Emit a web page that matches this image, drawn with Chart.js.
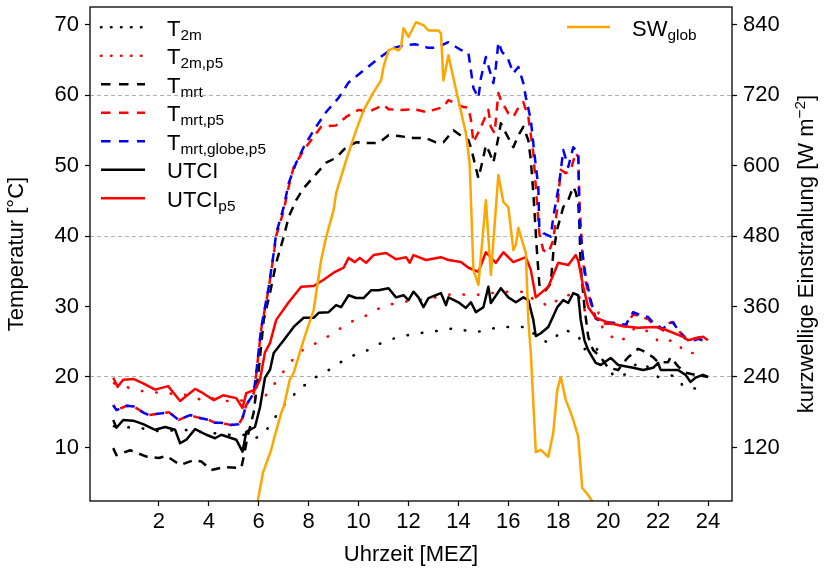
<!DOCTYPE html>
<html>
<head>
<meta charset="utf-8">
<script src="https://cdn.jsdelivr.net/npm/chart.js@4"></script>
<style>
  html, body { margin: 0; padding: 0; background: #fff; }
</style>
</head>
<body>
<canvas id="canva" width="827" height="572"></canvas>
<script>
// Achsenticks
const hourTicks = [2, 4, 6, 8, 10, 12, 14, 16, 18, 20, 22, 24];
const tempTicks = [10, 20, 30, 40, 50, 60, 70];
const swTicks = [120, 240, 360, 480, 600, 720, 840];
const swGridValues = [240, 480, 720];

// Legende
const legendMain = ["T", "T", "T", "T", "T", "UTCI", "UTCI"];
const legendSub = ["2m", "2m,p5", "mrt", "mrt,p5", "mrt,globe,p5", "", "p5"];
const swLegendMain = "SW";
const swLegendSub = "glob";

// Messreihen als [Uhrzeit in h, Wert]
const t2m = [[0.2,13.0],[0.6,12.8],[1.0,12.9],[1.5,12.6],[2.0,12.3],[2.5,12.4],[3.0,12.5],[3.5,12.3],[4.0,12.0],[4.5,12.0],[5.0,11.7],[5.5,11.8],[5.8,11.2],[6.2,11.9],[6.64,14.2],[7.1,16.4],[7.4,17.4],[7.64,18.6],[8.0,19.0],[8.3,20.0],[8.96,21.3],[9.57,22.8],[10.2,23.5],[10.9,24.8],[11.6,25.7],[12.4,26.2],[13.1,26.5],[13.8,26.9],[14.6,26.4],[15.0,26.5],[15.6,27.1],[16.3,27.1],[16.8,27.1],[17.0,26.2],[17.2,25.7],[17.6,24.8],[17.9,25.7],[18.2,26.8],[18.4,26.5],[18.8,26.0],[19.0,23.8],[19.2,24.3],[19.5,24.3],[19.7,22.8],[20.1,20.7],[20.3,19.9],[20.7,20.4],[21.2,22.1],[21.5,21.7],[22.0,20.0],[22.4,20.3],[22.8,20.0],[23.0,18.6],[23.4,18.4],[23.7,18.3]];

const t2mP5 = [[0.2,19.1],[0.7,18.6],[1.0,18.2],[1.5,17.9],[2.3,17.7],[3.3,17.4],[3.7,16.7],[4.1,17.0],[4.7,16.6],[5.1,16.5],[5.5,16.8],[5.8,17.2],[6.1,16.6],[6.4,17.9],[7.1,21.3],[7.6,23.5],[8.3,24.8],[8.9,26.0],[9.6,27.7],[10.2,28.5],[10.9,29.9],[11.6,30.6],[12.4,30.9],[13.1,31.3],[13.8,31.8],[14.6,31.6],[15.3,31.9],[16.0,32.1],[16.8,32.1],[17.0,30.9],[17.4,30.5],[17.6,29.9],[18.2,31.6],[18.4,31.6],[18.8,31.9],[19.0,29.5],[19.6,29.2],[19.8,26.6],[20.1,25.9],[20.3,25.0],[20.7,25.5],[21.1,27.1],[21.8,26.2],[22.0,25.0],[22.4,25.2],[22.8,25.0],[23.0,23.5],[23.4,23.4],[23.7,23.3]];

const tmrt = [[0.17,9.9],[0.3,8.9],[0.85,9.6],[1.5,8.7],[2.0,8.5],[2.3,8.8],[2.85,7.5],[3.4,8.2],[3.7,8.0],[4.1,6.8],[4.6,7.2],[5.1,7.1],[5.3,7.1],[5.4,8.7],[5.55,11.5],[5.8,15.0],[6.0,21.0],[6.2,28.1],[6.45,31.9],[6.7,36.2],[7.0,39.9],[7.2,42.7],[7.5,45.1],[7.8,46.8],[8.2,48.4],[8.7,50.4],[9.1,51.1],[9.5,52.6],[9.9,53.3],[10.3,53.2],[10.8,53.2],[11.2,54.3],[11.6,54.2],[12.2,53.9],[12.7,53.9],[13.1,53.3],[13.4,53.3],[13.8,55.0],[14.2,54.0],[14.4,53.6],[14.5,52.6],[14.65,50.4],[14.8,48.2],[14.95,50.4],[15.1,52.9],[15.25,51.8],[15.4,50.4],[15.6,54.0],[15.7,56.0],[15.9,54.6],[16.2,52.6],[16.4,54.3],[16.6,55.5],[16.8,53.6],[16.9,50.8],[17.0,46.1],[17.15,37.6],[17.25,32.8],[17.5,32.3],[17.7,33.3],[17.8,37.6],[17.96,41.0],[18.2,44.1],[18.4,45.1],[18.6,47.0],[18.7,46.2],[18.8,44.7],[18.85,41.3],[18.9,35.6],[19.05,29.9],[19.2,25.7],[19.4,23.8],[19.7,22.8],[20.0,21.3],[20.4,21.0],[20.7,22.4],[20.8,22.8],[21.2,24.0],[21.4,23.7],[21.8,22.8],[22.0,22.1],[22.4,22.1],[22.5,22.8],[22.8,21.5],[23.1,20.6],[23.5,20.3],[24.0,20.0]];

const tmrtP5 = [[0.17,16.0],[0.3,15.3],[0.7,15.9],[1.0,15.8],[1.4,14.9],[1.6,14.6],[2.2,14.9],[2.4,15.0],[2.8,13.9],[3.25,14.6],[3.5,14.3],[4.0,13.9],[4.25,13.5],[4.5,13.5],[4.85,13.2],[5.2,13.3],[5.35,14.2],[5.5,16.0],[5.8,17.7],[5.9,20.4],[6.0,23.6],[6.1,26.8],[6.4,32.6],[6.6,37.4],[6.7,40.0],[7.0,43.6],[7.2,47.0],[7.4,49.8],[7.8,52.2],[8.1,53.6],[8.5,55.5],[9.1,55.7],[9.5,56.9],[10.0,57.9],[10.4,57.6],[11.0,58.6],[11.2,58.0],[11.7,57.9],[12.2,58.0],[12.7,57.6],[13.4,58.3],[13.6,59.3],[14.2,58.3],[14.4,58.2],[14.5,56.5],[14.6,53.3],[14.84,55.0],[15.2,57.9],[15.3,55.5],[15.45,54.6],[15.6,60.3],[15.7,59.3],[16.0,57.4],[16.2,56.9],[16.4,58.2],[16.6,59.0],[16.8,56.9],[17.0,51.8],[17.1,47.0],[17.24,40.4],[17.4,38.0],[17.6,37.6],[17.8,39.4],[17.96,44.0],[18.1,49.4],[18.3,48.9],[18.5,49.4],[18.7,51.8],[18.8,51.2],[18.85,44.7],[18.97,37.0],[19.1,33.5],[19.3,30.5],[19.5,28.3],[19.8,27.6],[20.2,27.5],[20.7,27.2],[21.0,28.9],[21.2,28.7],[21.6,28.2],[21.8,27.5],[22.2,26.6],[22.4,27.6],[22.6,27.8],[22.8,26.6],[23.1,25.6],[23.4,25.4],[23.6,25.6],[24.0,25.5]];

const tmrtGlobeP5 = [[0.17,16.0],[0.3,15.3],[0.7,15.9],[1.0,15.8],[1.4,14.9],[1.6,14.6],[2.2,14.9],[2.4,15.0],[2.8,13.9],[3.25,14.6],[3.5,14.3],[4.0,13.9],[4.25,13.5],[4.5,13.5],[4.85,13.2],[5.2,13.3],[5.35,14.2],[5.5,16.0],[5.8,17.7],[5.9,20.6],[6.0,23.8],[6.1,27.0],[6.4,32.8],[6.6,37.6],[6.7,40.4],[7.0,44.1],[7.2,47.5],[7.5,50.4],[7.8,52.6],[8.2,55.0],[8.7,57.6],[9.2,59.6],[9.6,61.8],[10.2,63.5],[10.8,65.2],[11.4,66.7],[11.9,67.1],[12.3,67.2],[12.8,66.7],[13.1,66.7],[13.6,67.5],[14.1,66.4],[14.4,66.0],[14.5,63.5],[14.6,61.0],[14.8,59.6],[14.9,62.4],[15.1,65.4],[15.25,63.5],[15.4,61.7],[15.5,64.0],[15.6,67.5],[15.75,66.1],[15.96,65.4],[16.2,63.1],[16.4,64.0],[16.6,61.7],[16.7,59.7],[16.9,56.5],[17.04,51.8],[17.2,47.0],[17.24,41.3],[17.4,40.4],[17.7,39.9],[17.8,42.7],[18.04,47.5],[18.2,52.2],[18.4,49.8],[18.6,52.6],[18.8,51.8],[18.85,42.3],[18.97,37.6],[19.1,34.2],[19.3,30.9],[19.5,28.3],[19.8,27.8],[20.2,27.7],[20.7,27.4],[21.0,29.2],[21.2,28.9],[21.6,28.5],[21.8,27.7],[22.2,26.8],[22.4,27.7],[22.6,27.7],[22.8,26.7],[23.1,25.4],[23.4,25.1],[23.6,25.4],[24.0,25.0]];

const utci = [[0.17,13.9],[0.3,12.8],[0.57,13.9],[0.97,13.8],[1.37,13.3],[1.85,12.5],[2.25,12.9],[2.65,12.5],[2.85,10.6],[3.1,11.1],[3.45,12.6],[3.9,11.8],[4.25,11.3],[4.5,11.8],[5.1,11.1],[5.35,9.4],[5.5,12.2],[5.85,12.9],[6.05,15.7],[6.25,19.9],[6.45,21.0],[6.6,23.4],[7.0,25.2],[7.4,27.1],[7.8,28.4],[8.2,28.4],[8.4,29.1],[8.8,29.2],[9.1,30.2],[9.3,29.9],[9.6,31.6],[9.9,31.2],[10.2,31.2],[10.5,32.3],[10.8,32.3],[11.2,32.6],[11.5,31.3],[11.8,31.6],[12.0,30.9],[12.2,32.1],[12.4,31.3],[12.6,29.9],[12.8,31.2],[13.3,31.9],[13.5,30.2],[13.6,31.3],[14.0,30.6],[14.3,29.8],[14.5,30.6],[14.7,29.2],[15.0,29.9],[15.2,32.8],[15.3,30.5],[15.7,32.6],[16.0,31.3],[16.3,30.6],[16.6,31.3],[16.8,30.9],[17.0,28.1],[17.1,25.8],[17.3,26.2],[17.6,27.1],[17.96,29.9],[18.2,30.9],[18.4,30.5],[18.6,31.9],[18.8,31.6],[18.9,28.1],[19.05,25.2],[19.2,23.8],[19.5,22.0],[19.7,21.7],[20.1,22.7],[20.4,21.7],[21.0,21.3],[21.4,21.0],[21.8,21.3],[22.0,22.0],[22.1,21.0],[22.8,21.0],[23.1,20.3],[23.3,19.3],[23.5,19.9],[23.8,20.3],[24.0,20.0]];

const utciP5 = [[0.17,19.9],[0.35,18.6],[0.57,19.6],[1.0,19.7],[1.37,19.1],[1.85,18.2],[2.37,18.7],[2.6,17.7],[2.85,16.6],[3.45,18.3],[3.77,17.7],[4.2,16.7],[4.57,17.4],[5.1,17.0],[5.35,15.6],[5.5,17.7],[5.85,18.2],[6.05,19.6],[6.25,23.5],[6.45,24.8],[6.7,28.1],[7.2,30.6],[7.7,32.8],[8.2,32.9],[8.6,33.8],[9.0,34.8],[9.4,35.5],[9.6,36.9],[9.85,36.3],[10.05,36.9],[10.3,36.2],[10.6,37.3],[11.1,37.6],[11.5,36.7],[11.9,37.0],[12.05,36.2],[12.2,37.3],[12.7,36.6],[13.3,37.0],[13.6,36.6],[14.1,36.3],[14.4,35.5],[14.8,34.9],[15.1,37.7],[15.5,36.2],[15.8,37.7],[16.2,36.3],[16.7,37.0],[16.9,35.2],[17.1,31.3],[17.6,32.8],[18.0,36.2],[18.4,35.9],[18.7,37.3],[18.8,36.5],[19.0,32.8],[19.2,29.9],[19.5,28.4],[20.0,27.7],[20.6,27.2],[21.2,27.0],[21.9,27.1],[22.3,26.7],[23.0,25.7],[23.2,25.2],[23.8,25.7],[24.0,25.2]];

// Globalstrahlung in W m-2 (rechte Achse)
const swGlob = [[5.9,20],[5.97,31],[6.17,77],[6.5,116],[6.6,133],[6.9,179],[7.0,189],[7.24,235],[7.4,247],[7.8,303],[8.2,354],[8.5,439],[8.7,478],[9.0,524],[9.1,553],[9.5,609],[9.9,660],[10.2,694],[10.6,725],[10.9,745],[11.0,768],[11.2,796],[11.4,800],[11.6,796],[11.7,802],[11.8,834],[12.0,819],[12.3,844],[12.6,839],[12.8,830],[13.2,830],[13.3,825],[13.4,745],[13.6,788],[13.7,768],[14.0,711],[14.3,655],[14.45,604],[14.6,422],[14.8,397],[15.1,541],[15.3,414],[15.6,584],[15.8,538],[16.0,529],[16.2,456],[16.3,465],[16.4,494],[16.7,451],[16.8,337],[16.9,281],[17.1,112],[17.3,116],[17.6,104],[17.8,145],[17.96,218],[18.1,240],[18.3,201],[18.5,179],[18.6,167],[18.8,138],[18.96,51],[19.2,39],[19.4,25]];

const FONT = '"Liberation Sans", Arial, sans-serif';
const FS = 22;
const FS_SUB = 15.4;

const estilos = {
  dot: { width: 2.6, dash: [0.5, 14], legendDash: [0.5, 9.5], cap: "round" },
  dash: { width: 2.5, dash: [9, 7], legendDash: [9.5, 8.5], cap: "butt" },
  solid: { width: 2.5, dash: [], legendDash: [], cap: "butt" }
};

// offset: Phasenversatz der Strichelung, damit sich ueberlagernde Linien sichtbar bleiben
const reihen = [
  { data: t2m, color: "#000000", estilo: "dot", axis: "y", offset: 0 },
  { data: t2mP5, color: "#ff0000", estilo: "dot", axis: "y", offset: 0 },
  { data: tmrt, color: "#000000", estilo: "dash", axis: "y", offset: 0 },
  { data: tmrtP5, color: "#ff0000", estilo: "dash", axis: "y", offset: 6 },
  { data: tmrtGlobeP5, color: "#0000ff", estilo: "dash", axis: "y", offset: 0 },
  { data: utci, color: "#000000", estilo: "solid", axis: "y", offset: 0 },
  { data: utciP5, color: "#ff0000", estilo: "solid", axis: "y", offset: 0 },
  { data: swGlob, color: "#ffa500", estilo: "solid", axis: "y2", offset: 0 }
];

const datasets = reihen.map((r, i) => {
  const e = estilos[r.estilo];
  return {
    data: r.data.map(([x, y]) => ({ x, y })),
    yAxisID: r.axis,
    borderColor: r.color,
    backgroundColor: r.color,
    borderWidth: e.width,
    borderDash: e.dash,
    borderDashOffset: r.offset,
    borderCapStyle: e.cap,
    borderJoinStyle: "round",
    pointRadius: 0,
    tension: 0,
    fill: false,
    order: reihen.length - 1 - i
  };
});

// Linie fuer die Legende
function muestra(ctx, x0, x1, y, r) {
  const e = estilos[r.estilo];
  ctx.save();
  ctx.strokeStyle = r.color;
  ctx.lineWidth = e.width;
  ctx.lineCap = e.cap;
  ctx.setLineDash(e.legendDash);
  ctx.beginPath();
  ctx.moveTo(x0, y);
  ctx.lineTo(x1, y);
  ctx.stroke();
  ctx.restore();
}

// Text mit Index
function textoIndice(ctx, x, y, main, sub) {
  ctx.font = FS + "px " + FONT;
  ctx.fillText(main, x, y);
  const w = ctx.measureText(main).width;
  if (sub) {
    ctx.font = FS_SUB + "px " + FONT;
    ctx.fillText(sub, x + w, y + 4);
  }
}

// feste Raender, ohne automatische Label-Polsterung
function ajustarY(ancho) {
  return (s) => {
    s.width = ancho;
    s.paddingTop = 0;
    s.paddingBottom = 0;
  };
}

const marcoTexto = {
  id: "marcoTexto",
  afterDraw(chart) {
    const { ctx, chartArea: a } = chart;
    ctx.save();
    ctx.setLineDash([]);
    ctx.strokeStyle = "#000";
    ctx.lineWidth = 1.3;
    ctx.strokeRect(a.left, a.top, a.right - a.left, a.bottom - a.top);

    ctx.fillStyle = "#000";
    ctx.textAlign = "left";
    ctx.textBaseline = "alphabetic";

    // linke Legende
    for (let i = 0; i < legendMain.length; i++) {
      const y = a.top + 20.3 + i * 28.5;
      muestra(ctx, a.left + 11, a.left + 55, y, reihen[i]);
      textoIndice(ctx, a.left + 77, y + 8.5, legendMain[i], legendSub[i]);
    }
    // rechte Legende
    const ySW = a.top + 20;
    muestra(ctx, a.right - 165, a.right - 122, ySW, reihen[7]);
    textoIndice(ctx, a.right - 100, ySW + 8.5, swLegendMain, swLegendSub);

    // Achsentitel
    const cx = (a.left + a.right) / 2;
    const cy = (a.top + a.bottom) / 2;
    ctx.font = FS + "px " + FONT;
    ctx.textAlign = "center";
    ctx.fillText("Uhrzeit [MEZ]", cx, 561);

    ctx.save();
    ctx.translate(23, cy);
    ctx.rotate(-Math.PI / 2);
    ctx.fillText("Temperatur [°C]", 0, 0);
    ctx.restore();

    ctx.save();
    ctx.translate(813, cy);
    ctx.rotate(-Math.PI / 2);
    ctx.textAlign = "left";
    const p1 = "kurzwellige Einstrahlung [W m";
    const p2 = "\u22122";
    const p3 = "]";
    ctx.font = FS + "px " + FONT;
    const w1 = ctx.measureText(p1).width;
    const w3 = ctx.measureText(p3).width;
    ctx.font = FS_SUB + "px " + FONT;
    const w2 = ctx.measureText(p2).width;
    let x = -(w1 + w2 + w3) / 2;
    ctx.font = FS + "px " + FONT;
    ctx.fillText(p1, x, 0);
    x += w1;
    ctx.font = FS_SUB + "px " + FONT;
    ctx.fillText(p2, x, -8.5);
    x += w2;
    ctx.font = FS + "px " + FONT;
    ctx.fillText(p3, x, 0);
    ctx.restore();

    ctx.restore();
  }
};

const tickFont = { family: FONT, size: FS };

new Chart(document.getElementById("canva").getContext("2d"), {
  type: "line",
  data: { datasets },
  options: {
    responsive: false,
    animation: false,
    devicePixelRatio: 1,
    layout: { padding: { top: 7, left: 0, right: 0, bottom: 0 } },
    plugins: { legend: { display: false }, tooltip: { enabled: false } },
    scales: {
      x: {
        type: "linear",
        min: -0.76,
        max: 24.96,
        afterBuildTicks: (s) => { s.ticks = hourTicks.map((v) => ({ value: v })); },
        afterFit: (s) => { s.height = 71; s.paddingLeft = 0; s.paddingRight = 0; },
        ticks: { color: "#000", font: tickFont, padding: 3, autoSkip: false, maxRotation: 0 },
        grid: { drawOnChartArea: false, drawTicks: true, tickLength: 5, tickColor: "#000", tickWidth: 1.2 },
        border: { display: false }
      },
      y: {
        type: "linear",
        position: "left",
        min: 2.4,
        max: 72.5,
        afterBuildTicks: (s) => { s.ticks = tempTicks.map((v) => ({ value: v })); },
        afterFit: ajustarY(90),
        ticks: { color: "#000", font: tickFont, padding: 6 },
        grid: { drawOnChartArea: false, drawTicks: true, tickLength: 5, tickColor: "#000", tickWidth: 1.2 },
        border: { display: false }
      },
      y2: {
        type: "linear",
        position: "right",
        min: 28.8,
        max: 870,
        afterBuildTicks: (s) => { s.ticks = swTicks.map((v) => ({ value: v })); },
        afterFit: ajustarY(95),
        ticks: { color: "#000", font: tickFont, padding: 6 },
        grid: {
          drawOnChartArea: true,
          drawTicks: true,
          tickLength: 5,
          tickColor: "#000",
          tickWidth: 1.2,
          lineWidth: 1,
          color: (c) => (c.tick && swGridValues.includes(c.tick.value) ? "#b0b0b0" : "rgba(0,0,0,0)")
        },
        border: { display: false, dash: [4, 3] }
      }
    }
  },
  plugins: [marcoTexto]
});
</script>
</body>
</html>
